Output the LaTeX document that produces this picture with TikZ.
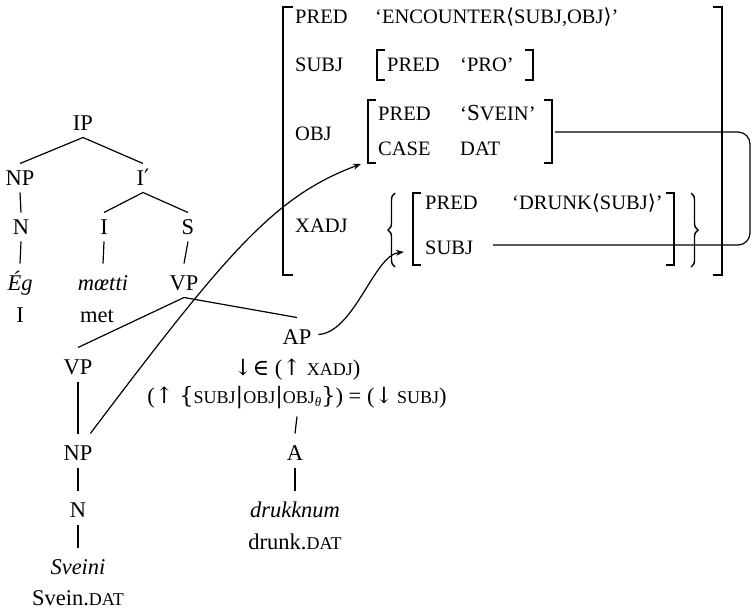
\documentclass[tikz,border=0pt]{standalone}
\usepackage{fontspec}
\setmainfont{Liberation Serif}
\newfontfamily\symfont{DejaVu Serif}
\usetikzlibrary{arrows.meta,decorations.pathreplacing}

\newcommand\treefont{\fontsize{22.5}{26}\selectfont}
\newcommand\featfont{\fontsize{20.5}{23}\selectfont}
\newcommand\smcap[1]{{\fontsize{18}{20}\selectfont #1}}
\newcommand\sym[1]{{\symfont #1}}

\begin{document}
\begin{tikzpicture}[x=1pt,y=1pt,>={Stealth[length=8pt,width=6pt]},
  cat/.style={font=\treefont,inner sep=0pt,outer sep=7pt,text height=15pt,text depth=0pt,anchor=base},
  word/.style={cat,text height=20pt},
  gloss/.style={font=\treefont,inner sep=0pt,anchor=base},
  avm/.style={font=\featfont,inner sep=0pt,anchor=base west},
  branch/.style={line width=1.2pt},
  brk/.style={line width=1.4pt},
  link/.style={line width=1.2pt,->}]
\useasboundingbox (0,0) rectangle (754,-610);

% c-structure
\node[cat] (IP) at (83,-130.5) {IP};
\node[cat] (NPa) at (20,-185.5) {NP};
\node[cat] (Ibar) at (143,-185.5) {I\sym{′}};
\node[cat] (Na) at (21,-234.5) {N};
\node[cat] (Ia) at (104,-234.5) {I};
\node[cat] (Sa) at (188,-234.5) {S};
\node[word] (Eg) at (20,-290.5) {\textit{Ég}};
\node[word] (moetti) at (103,-290.5) {\textit{mœtti}};
\node[word] (VPa) at (184,-290.5) {VP};
\node[gloss] (glI) at (20,-322.5) {I};
\node[gloss] (glmet) at (97,-322.5) {met};
\node[word] (VPb) at (78,-374.5) {VP};
\node[word] (AP) at (297,-344.5) {AP};
\node[gloss] (upin) at (297,-375.5) {\sym{↓∈} (\sym{↑} \smcap{XADJ})};
\node[cat,text depth=6pt] (eqn) at (297,-403.5) {(\sym{↑} \sym{\{}\smcap{SUBJ}\sym{|}\smcap{OBJ}\sym{|}\smcap{OBJ}\raisebox{-3pt}{\fontsize{13}{14}\selectfont\textit{θ}}\sym{\}}) = (\sym{↓}\,\smcap{SUBJ})};
\node[word] (NPb) at (78,-460.5) {NP};
\node[word] (Ab) at (295,-460.5) {A};
\node[word] (Nb) at (78,-517.5) {N};
\node[word] (drukk) at (295,-517.5) {\textit{drukknum}};
\node[gloss] (gldrunk) at (295,-549.5) {drunk.\smcap{DAT}};
\node[word] (Sveini) at (78,-574.5) {\textit{Sveini}};
\node[gloss] (glsvein) at (78,-605.5) {Svein.\smcap{DAT}};

\draw[branch] (IP.south) -- (NPa.north);
\draw[branch] (IP.south) -- (Ibar.north);
\draw[branch] (NPa.south) -- (Na.north);
\draw[branch] (Ibar.south) -- (Ia.north);
\draw[branch] (Ibar.south) -- (Sa.north);
\draw[branch] (Na.south) -- (Eg.north);
\draw[branch] (Ia.south) -- (moetti.north);
\draw[branch] (Sa.south) -- (VPa.north);
\draw[branch] (VPa.south) -- (VPb.north);
\draw[branch] (VPa.south) -- (AP.north);
\draw[branch] (VPb.south) -- (NPb.north);
\draw[branch] (NPb.south) -- (Nb.north);
\draw[branch] (Nb.south) -- (Sveini.north);
\draw[branch] (eqn.south) -- (Ab.north);
\draw[branch] (Ab.south) -- (drukk.north);

% f-structure
\node[avm] (fPRED) at (295,-24) {PRED};
\node[avm] (fENC) at (375,-24) {`ENCOUNTER\sym{⟨}SUBJ,OBJ\sym{⟩}'};
\node[avm] (fSUBJ) at (295,-71) {SUBJ};
\node[avm] (sPRED) at (387,-71) {PRED};
\node[avm] (sPRO) at (460,-71) {`PRO'};
\node[avm] (oPRED) at (378,-120) {PRED};
\node[avm] (oSVEIN) at (460,-120) {`{\fontsize{23}{24}\selectfont S}VEIN'};
\node[avm] (fOBJ) at (295,-140) {OBJ};
\node[avm] (oCASE) at (378,-155) {CASE};
\node[avm] (oDAT) at (460,-155) {DAT};
\node[avm] (xPRED) at (425,-209) {PRED};
\node[avm] (xDRUNK) at (512,-209) {`DRUNK\sym{⟨}SUBJ\sym{⟩}'};
\node[avm] (fXADJ) at (295,-232) {XADJ};
\node[avm] (xSUBJ) at (425,-254) {SUBJ};

% brackets
\draw[brk] (293,-7) -- (283,-7) -- (283,-275) -- (293,-275);
\draw[brk] (713,-7) -- (722,-7) -- (722,-275) -- (713,-275);
\draw[brk] (385,-50) -- (377,-50) -- (377,-80) -- (385,-80);
\draw[brk] (525,-50) -- (533,-50) -- (533,-80) -- (525,-80);
\draw[brk] (376,-100) -- (368,-100) -- (368,-163) -- (376,-163);
\draw[brk] (544,-100) -- (552,-100) -- (552,-163) -- (544,-163);
\draw[brk] (421,-193) -- (413,-193) -- (413,-265) -- (421,-265);
\draw[brk] (666,-193) -- (674,-193) -- (674,-265) -- (666,-265);
\draw[brk,decorate,decoration={brace,amplitude=7pt}] (395,-267) -- (395,-193);
\draw[brk,decorate,decoration={brace,amplitude=7pt}] (691,-193) -- (691,-267);

\coordinate (objR) at (555,-132);
\coordinate (subjR) at (493,-245);
\coordinate (objtip) at (361,-164);
\coordinate (subjtip) at (404,-252);

% links
\draw[branch,rounded corners=12pt] (objR) -- ++(195,0) |- (subjR);
\draw[link] ([xshift=-9pt]NPb.north east) .. controls +(138,183) and +(-86,-32) .. (objtip);
\draw[link] (AP.east) .. controls +(36,2) and +(-30,-3) .. (subjtip);
\end{tikzpicture}
\end{document}
